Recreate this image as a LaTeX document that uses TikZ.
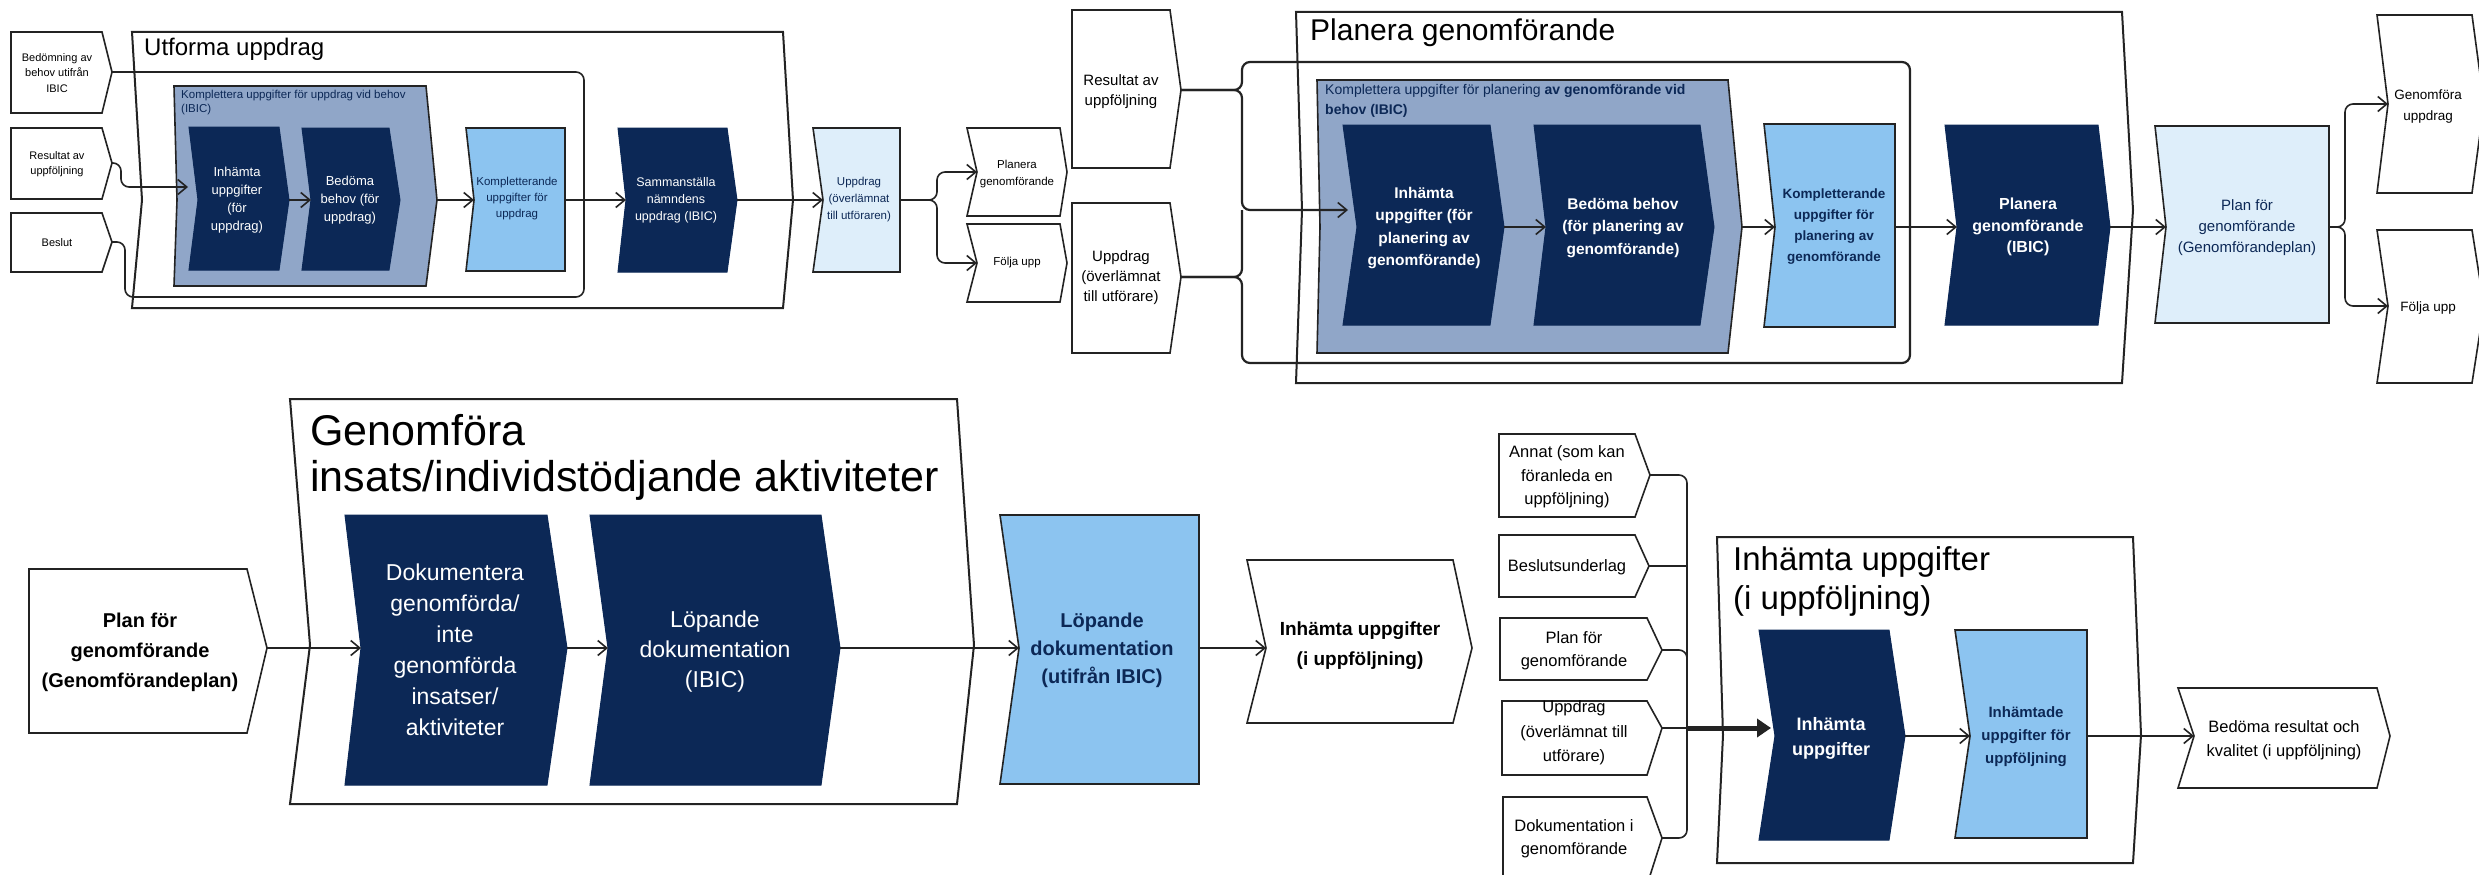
\documentclass[tikz,border=0pt]{standalone}
\usepackage{fontspec}
\setmainfont{Liberation Sans}
\usetikzlibrary{arrows.meta}
\definecolor{navy}{RGB}{12,40,86}
\definecolor{skyb}{RGB}{140,196,240}
\definecolor{paleb}{RGB}{222,238,250}
\definecolor{grayb}{RGB}{144,166,200}
\definecolor{ln}{RGB}{35,35,35}
\newcommand{\fsz}[2]{\fontsize{#1}{#2}\selectfont}
% style, name, left, top, right, bottom, mid-y, notch depth, point depth
\newcommand{\myshape}[9]{%
  \path[#1] (#3,#4) -- (#5,#4) -- ({#5+#9},#7) -- (#5,#6) -- (#3,#6) -- ({#3+#8},#7) -- cycle;
  \coordinate (#2-in) at ({#3+#8},#7);
  \coordinate (#2-out) at ({#5+#9},#7);
}
\tikzset{
  cont/.style={draw=ln, line width=2pt, fill=white},
  wbox/.style={draw=ln, line width=1.6pt, fill=white},
  dbox/.style={fill=navy, draw=navy, line width=1pt},
  lbox/.style={fill=skyb, draw=ln, line width=1.6pt},
  pbox/.style={fill=paleb, draw=ln, line width=1.6pt},
  gbox/.style={fill=grayb, draw=ln, line width=1.6pt},
  conn/.style={draw=ln, line width=1.6pt, rounded corners=8pt},
  arr/.style={conn, -{Straight Barb[length=9pt,width=15pt,line width=1.6pt]}},
  wt/.style={text=white, align=center, inner sep=0pt},
  nt/.style={text=navy, align=center, inner sep=0pt},
  bt/.style={text=black, align=center, inner sep=0pt},
  ttl/.style={anchor=base west, inner sep=0pt, text=black},
}
\begin{document}
\begin{tikzpicture}[x=1pt,y=-1pt]
\useasboundingbox (0,0) rectangle (2479,875);
\fill[white] (0,0) rectangle (2479,875);

% ---------- containers ----------
\myshape{cont}{cU}{132}{32}{783}{308}{200}{10}{10}
\myshape{cont}{cP}{1296}{12}{2122}{383}{210}{6}{11}
\myshape{cont}{cG}{290}{399}{957}{804}{645}{20}{17}
\myshape{cont}{cI}{1717}{537}{2133}{863}{735}{6}{8}

\node[ttl, font=\fsz{24}{28}] (tU) at (144,56) {Utforma uppdrag};
\node[ttl, font=\fsz{30}{34}] (tP) at (1310,41) {Planera genomförande};
\node[ttl, font=\fsz{43}{48}] (tG1) at (310,445) {Genomföra};
\node[ttl, font=\fsz{43}{48}] (tG2) at (310,491) {insats/individstödjande aktiviteter};
\node[ttl, font=\fsz{33}{38}] (tI1) at (1733,570) {Inhämta uppgifter};
\node[ttl, font=\fsz{33}{38}] (tI2) at (1733,609) {(i uppföljning)};

% ---------- top left: Utforma uppdrag ----------
\myshape{wbox}{in1}{11}{32}{102}{113}{72}{0}{10}
\myshape{wbox}{in2}{11}{128}{102}{199}{163}{0}{10}
\myshape{wbox}{in3}{11}{213}{102}{272}{242}{0}{10}
\draw[conn] (in1-out) -- (584,72) -- (584,297) -- (125,297) -- (125,242) -- (in3-out);

\myshape{gbox}{g1}{174}{86}{426}{286}{200}{3}{11}
\myshape{dbox}{d1}{189}{127}{279}{270}{200}{9}{10}
\myshape{dbox}{d2}{302}{128}{389}{270}{200}{9}{11}
\myshape{lbox}{l1}{466}{128}{565}{271}{200}{8}{0}
\myshape{dbox}{d3}{618}{128}{727}{272}{200}{8}{10}
\myshape{pbox}{v1}{813}{128}{900}{272}{200}{10}{0}
\myshape{wbox}{o1}{967}{128}{1060}{216}{172}{10}{7}
\myshape{wbox}{o2}{967}{224}{1060}{302}{263}{10}{7}

\node[bt, font=\fsz{11}{15.5}] (in1t) at (57,73) {Bedömning av\\behov utifrån\\IBIC};
\node[bt, font=\fsz{11}{15.5}] (in2t) at (57,164) {Resultat av\\uppföljning};
\node[bt, font=\fsz{11}{15.5}] (in3t) at (57,243) {Beslut};
\node[anchor=north west, align=left, inner sep=0pt, text=navy, font=\fsz{11.5}{14}] (g1t) at (181,90) {Komplettera uppgifter för uppdrag vid behov\\(IBIC)};
\node[wt, font=\fsz{13}{18}] (d1t) at (237,200) {Inhämta\\uppgifter\\(för\\uppdrag)};
\node[wt, font=\fsz{13}{18}] (d2t) at (350,200) {Bedöma\\behov (för\\uppdrag)};
\node[nt, font=\fsz{11.5}{16}] (l1t) at (517,199) {Kompletterande\\uppgifter för\\uppdrag};
\node[wt, font=\fsz{12.5}{17}] (d3t) at (676,200) {Sammanställa\\nämndens\\uppdrag (IBIC)};
\node[nt, font=\fsz{11.5}{17}] (v1t) at (859,200) {Uppdrag\\(överlämnat\\till utföraren)};
\node[bt, font=\fsz{11.5}{17}] (o1t) at (1017,174) {Planera\\genomförande};
\node[bt, font=\fsz{11.5}{17}] (o2t) at (1017,263) {Följa upp};

\coordinate (d1a) at (188,187);
\coordinate (j1) at (937,200);
\draw[arr] (in2-out) -- (121,163) -- (121,187) -- (d1a);
\draw[arr] (d1-out) -- (d2-in);
\draw[arr] (g1-out) -- (l1-in);
\draw[arr] (l1-out) -- (d3-in);
\draw[arr] (d3-out) -- (v1-in);
\draw[arr] (v1-out) -- (j1) |- (o1-in);
\draw[arr] (v1-out) -- (j1) |- (o2-in);

% ---------- top right: Planera genomförande ----------
\myshape{wbox}{in4}{1072}{10}{1170}{168}{90}{0}{11}
\myshape{wbox}{in5}{1072}{203}{1170}{353}{277}{0}{11}
\draw[conn, line width=2.2pt] (in4-out) -- (1242,90) -- (1242,62) -- (1910,62) -- (1910,363) -- (1242,363) -- (1242,277) -- (in5-out);

\myshape{gbox}{g2}{1317}{80}{1728}{353}{227}{3}{14}
\myshape{dbox}{d4}{1343}{125}{1490}{325}{227}{14}{14}
\myshape{dbox}{d5}{1534}{125}{1700}{325}{227}{12}{14}
\myshape{lbox}{l2}{1764}{124}{1895}{327}{227}{11}{0}
\myshape{dbox}{d6}{1945}{125}{2098}{325}{227}{12}{12}
\myshape{pbox}{v2}{2155}{126}{2329}{323}{227}{11}{0}
\myshape{wbox}{o3}{2377}{15}{2472}{193}{104}{11}{12}
\myshape{wbox}{o4}{2377}{230}{2472}{383}{306}{11}{12}

\node[bt, font=\fsz{15}{20}] (in4t) at (1121,92) {Resultat av\\uppföljning};
\node[bt, font=\fsz{15}{20}] (in5t) at (1121,278) {Uppdrag\\(överlämnat\\till utförare)};
\node[anchor=north west, align=left, inner sep=0pt, text=navy, font=\fsz{14}{20}] (g2t) at (1325,84) {Komplettera uppgifter för planering \textbf{av genomförande vid}\\\textbf{behov (IBIC)}};
\node[wt, font=\bfseries\fsz{15.5}{22.5}] (d4t) at (1424,228) {Inhämta\\uppgifter (för\\planering av\\genomförande)};
\node[wt, font=\bfseries\fsz{15.5}{22.5}] (d5t) at (1623,228) {Bedöma behov\\(för planering av\\genomförande)};
\node[nt, font=\bfseries\fsz{13.5}{21}] (l2t) at (1834,227) {Kompletterande\\uppgifter för\\planering av\\genomförande};
\node[wt, font=\bfseries\fsz{16}{21.5}] (d6t) at (2028,227) {Planera\\genomförande\\(IBIC)};
\node[nt, font=\fsz{15}{21}] (v2t) at (2247,228) {Plan för\\genomförande\\(Genomförandeplan)};
\node[bt, font=\fsz{13.5}{21}] (o3t) at (2428,107) {Genomföra\\uppdrag};
\node[bt, font=\fsz{13.5}{21}] (o4t) at (2428,308) {Följa upp};

\coordinate (d4a) at (1348,210);
\coordinate (j2) at (2345,227);
\draw[arr, line width=2.2pt] (in4-out) -- (1242,90) -- (1242,210) -- (d4a);
\draw[conn, line width=2.2pt] (in5-out) -- (1242,277) -- (1242,210);
\draw[arr] (d4-out) -- (d5-in);
\draw[arr] (g2-out) -- (l2-in);
\draw[arr] (l2-out) -- (d6-in);
\draw[arr] (d6-out) -- (v2-in);
\draw[arr] (v2-out) -- (j2) |- (o3-in);
\draw[arr] (v2-out) -- (j2) |- (o4-in);

% ---------- bottom left: Genomföra ----------
\myshape{wbox}{in6}{29}{569}{247}{733}{648}{0}{20}
\myshape{dbox}{d7}{345}{515}{547}{785}{648}{16}{20}
\myshape{dbox}{d8}{590}{515}{821}{785}{648}{18}{19}
\myshape{lbox}{l3}{1000}{515}{1199}{784}{648}{19}{0}
\myshape{wbox}{o5}{1247}{560}{1453}{723}{648}{19}{19}

\node[bt, font=\bfseries\fsz{20}{30}] (in6t) at (140,652) {Plan för\\genomförande\\(Genomförandeplan)};
\node[wt, font=\fsz{23}{31}] (d7t) at (455,650) {Dokumentera\\genomförda/\\inte\\genomförda\\insatser/\\aktiviteter};
\node[wt, font=\fsz{23}{30}] (d8t) at (715,652) {Löpande\\dokumentation\\(IBIC)};
\node[nt, font=\bfseries\fsz{20}{28}] (l3t) at (1102,650) {Löpande\\dokumentation\\(utifrån IBIC)};
\node[bt, font=\bfseries\fsz{19}{30}] (o5t) at (1360,646) {Inhämta uppgifter\\(i uppföljning)};

\draw[arr] (in6-out) -- (d7-in);
\draw[arr] (d7-out) -- (d8-in);
\draw[arr] (d8-out) -- (l3-in);
\draw[arr] (l3-out) -- (o5-in);

% ---------- bottom right: Inhämta uppgifter ----------
\myshape{wbox}{in7}{1499}{434}{1635}{517}{475}{0}{15}
\myshape{wbox}{in8}{1499}{535}{1635}{597}{566}{0}{14}
\myshape{wbox}{in9}{1500}{618}{1647}{680}{650}{0}{15}
\myshape{wbox}{in10}{1502}{701}{1647}{775}{728}{0}{15}
\myshape{wbox}{in11}{1503}{797}{1647}{885}{838}{0}{15}
\myshape{dbox}{d9}{1759}{630}{1889}{840}{736}{16}{16}
\myshape{lbox}{l4}{1955}{630}{2087}{838}{736}{15}{0}
\myshape{wbox}{o6}{2178}{688}{2377}{788}{736}{16}{13}

\node[bt, font=\fsz{16.5}{23.5}] (in7t) at (1567,477) {Annat (som kan\\föranleda en\\uppföljning)};
\node[bt, font=\fsz{16.5}{23}] (in8t) at (1567,567) {Beslutsunderlag};
\node[bt, font=\fsz{16.5}{23}] (in9t) at (1574,651) {Plan för\\genomförande};
\node[bt, font=\fsz{16.5}{24.5}] (in10t) at (1574,733) {Uppdrag\\(överlämnat till\\utförare)};
\node[bt, font=\fsz{16.5}{23}] (in11t) at (1574,839) {Dokumentation i\\genomförande};
\node[wt, font=\bfseries\fsz{18}{25}] (d9t) at (1831,738) {Inhämta\\uppgifter};
\node[nt, font=\bfseries\fsz{15}{23}] (l4t) at (2026,737) {Inhämtade\\uppgifter för\\uppföljning};
\node[bt, font=\fsz{16.5}{24}] (o6t) at (2284,740) {Bedöma resultat och\\kvalitet (i uppföljning)};

\coordinate (bus) at (1687,728);
\coordinate (d9a) at (1771,728);
\draw[conn] (in7-out) -| (bus);
\draw[conn] (in8-out) -- (in8-out -| bus);
\draw[conn] (in9-out) -| (bus);
\draw[conn] (in10-out) -- (bus);
\draw[conn] (in11-out) -| (bus);
\draw[draw=ln, line width=5pt, -{Triangle[length=14pt,width=18pt]}] (bus) -- (d9a);
\draw[arr] (d9-out) -- (l4-in);
\draw[arr] (l4-out) -- (o6-in);
\end{tikzpicture}
\end{document}
